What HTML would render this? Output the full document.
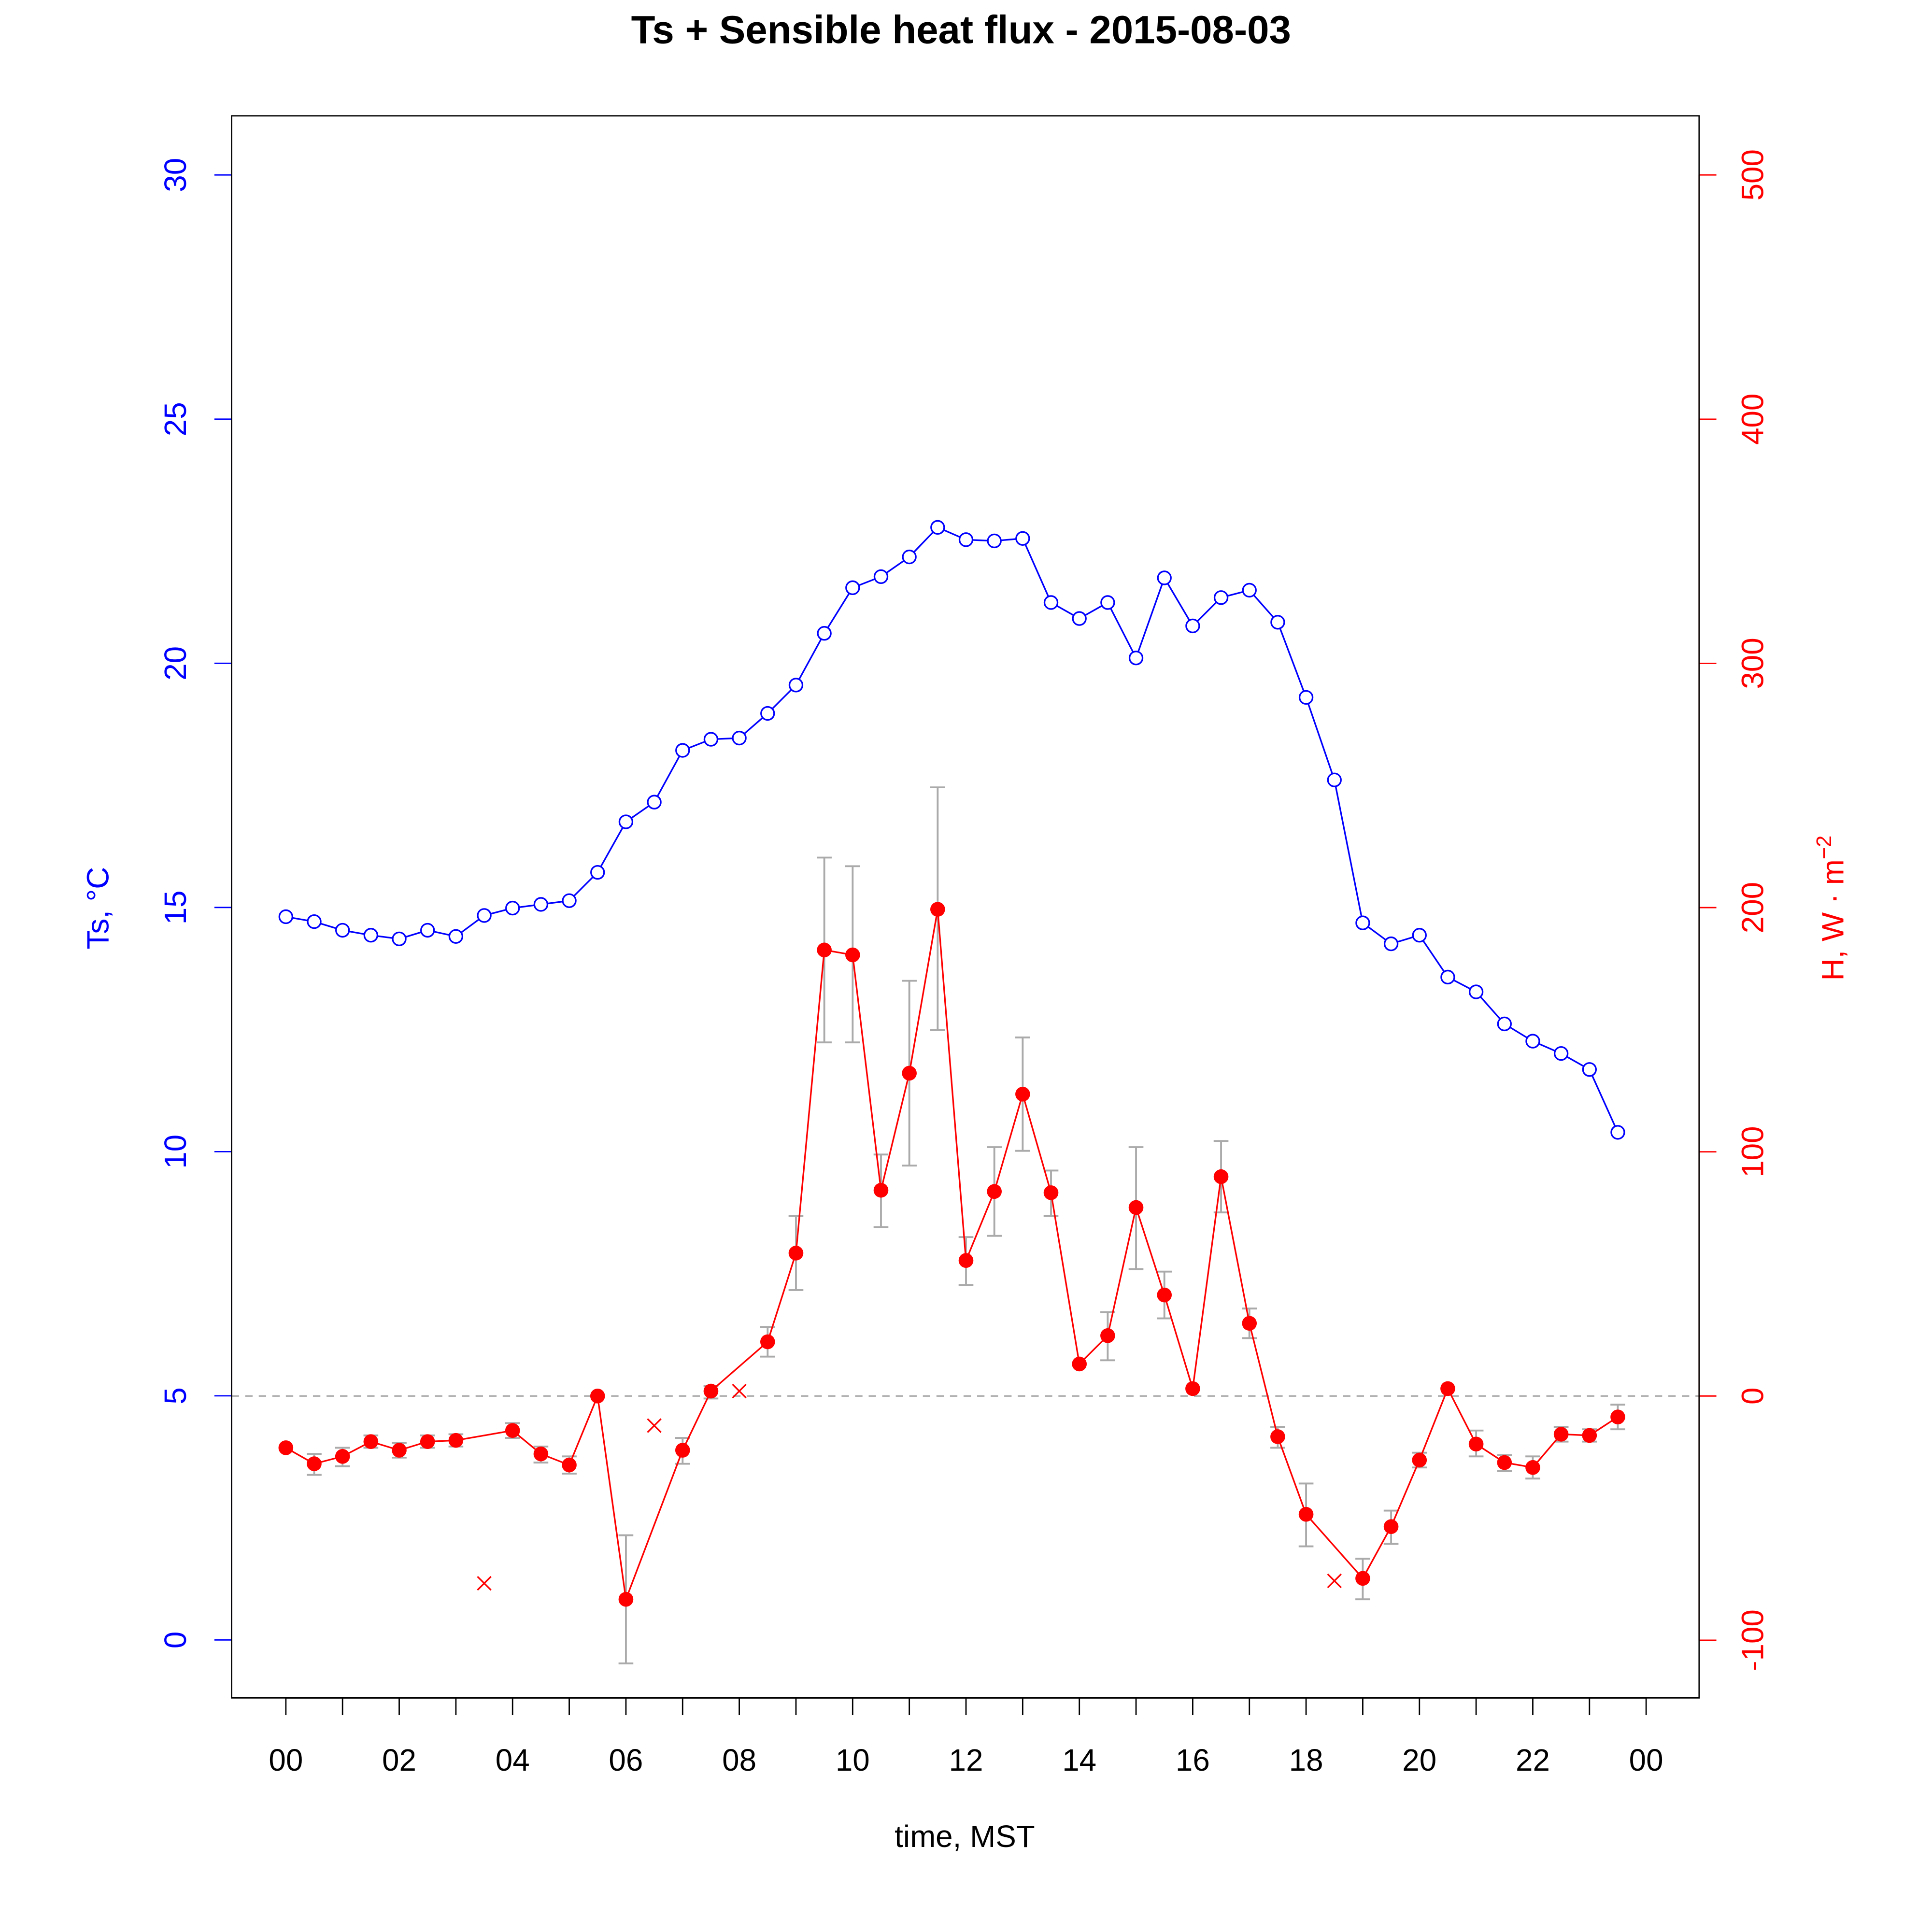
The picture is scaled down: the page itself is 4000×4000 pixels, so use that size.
<!DOCTYPE html>
<html><head><meta charset="utf-8"><style>html,body{margin:0;padding:0;background:#fff}svg{display:block}</style></head>
<body>
<svg id="s" xmlns="http://www.w3.org/2000/svg" width="4000" height="4000" viewBox="0 0 1568 1568" font-family="Liberation Sans, Arial, sans-serif">
<rect width="1568" height="1568" fill="#fff"/>
</svg>
<script>
const s=document.getElementById('s');let h='';
const X=t=>232+t*46;
h+=`<text x="780" y="35" text-anchor="middle" font-size="32" font-weight="bold">Ts + Sensible heat flux -  2015-08-03</text>`;
h+=`<line x1="188" x2="1379" y1="1133" y2="1133" stroke="#aaa" stroke-width="1.2" stroke-dasharray="6,5"/>`;
h+=`<line x1="232" x2="1336" y1="1378" y2="1378" stroke="#000" stroke-width="1.1"/>`;
const lab=['00','02','04','06','08','10','12','14','16','18','20','22','00'];
for(let i=0;i<=24;i++){h+=`<line x1="${X(i)}" x2="${X(i)}" y1="1378" y2="1392" stroke="#000" stroke-width="1.1"/>`;
 if(i%2==0)h+=`<text x="${X(i)}" y="1437" text-anchor="middle" font-size="25">${lab[i/2]}</text>`;}
h+=`<text x="783" y="1499" text-anchor="middle" font-size="25">time, MST</text>`;
const YL=v=>1331-v*39.633;
h+=`<line x1="188" x2="188" y1="${YL(0)}" y2="${YL(30)}" stroke="#00f" stroke-width="1.1"/>`;
for(let v=0;v<=30;v+=5){const y=YL(v);h+=`<line x1="174" x2="188" y1="${y}" y2="${y}" stroke="#00f" stroke-width="1.1"/><text transform="translate(151,${y}) rotate(-90)" text-anchor="middle" font-size="25" fill="#00f">${v}</text>`;}
h+=`<text transform="translate(88,737) rotate(-90)" text-anchor="middle" font-size="25" fill="#00f">Ts, °C</text>`;
const YR=v=>1133-v*1.982;
h+=`<line x1="1379" x2="1379" y1="${YR(-100)}" y2="${YR(500)}" stroke="#f00" stroke-width="1.1"/>`;
for(let v=-100;v<=500;v+=100){const y=YR(v);h+=`<line x1="1379" x2="1393" y1="${y}" y2="${y}" stroke="#f00" stroke-width="1.1"/><text transform="translate(1431,${y}) rotate(-90)" text-anchor="middle" font-size="25" fill="#f00">${v}</text>`;}
h+=`<text transform="translate(1496,737) rotate(-90)" text-anchor="middle" font-size="25" fill="#f00">H, W · m<tspan font-size="17" dy="-10">−2</tspan></text>`;
h+=`<rect x="188" y="94" width="1191" height="1284" fill="none" stroke="#000" stroke-width="1.1"/>`;
const ts=[744,748,755,759,762,755,760,743,737,734,731,708,667,651,609,600,599,579,556,514,477,468,452,428,438,439,437,489,502,489,534,469,508,485,479,505,566,633,749,766,759,793,805,831,845,855,868,919];
h+=`<polyline fill="none" stroke="#00f" stroke-width="1.3" points="${ts.map((y,i)=>X(i/2)+','+y).join(' ')}"/>`;
ts.forEach((y,i)=>h+=`<circle cx="${X(i/2)}" cy="${y}" r="5.3" fill="#fff" stroke="#00f" stroke-width="1.3"/>`);
const H={0:1175,0.5:1188,1:1182,1.5:1170,2:1177,2.5:1170,3:1169,4:1161,4.5:1180,5:1189,5.5:1133,6:1298,7:1177,7.5:1129,8.5:1089,9:1017,9.5:771,10:775,10.5:966,11:871,11.5:738,12:1023,12.5:967,13:888,13.5:968,14:1107,14.5:1084,15:980,15.5:1051,16:1127,16.5:955,17:1074,17.5:1166,18:1229,19:1281,19.5:1239,20:1185,20.5:1127,21:1172,21.5:1187,22:1191,22.5:1164,23:1165,23.5:1150};
const E={0.5:[1180,1197],1:[1175,1190],1.5:[1165,1175],2:[1171,1183],2.5:[1165,1175],3:[1164,1174],4:[1155,1167],4.5:[1174,1187],5:[1182,1196],6:[1246,1350],7:[1167,1188],7.5:[1125,1135],8.5:[1077,1101],9:[987,1047],9.5:[696,846],10:[703,846],10.5:[937,996],11:[796,946],11.5:[639,836],12:[1004,1043],12.5:[931,1003],13:[842,934],13.5:[950,987],14.5:[1065,1104],15:[931,1030],15.5:[1032,1070],16.5:[926,984],17:[1062,1086],17.5:[1158,1175],18:[1204,1255],19:[1265,1298],19.5:[1226,1253],20:[1179,1191],21:[1161,1182],21.5:[1181,1194],22:[1182,1200],22.5:[1158,1170],23:[1160,1170],23.5:[1140,1160]};
for(const k in E){const x=X(+k),[a,b]=E[k];h+=`<g stroke="#aaa" stroke-width="1.5"><line x1="${x}" x2="${x}" y1="${a}" y2="${b}"/><line x1="${x-6}" x2="${x+6}" y1="${a}" y2="${a}"/><line x1="${x-6}" x2="${x+6}" y1="${b}" y2="${b}"/></g>`;}
const ks=Object.keys(H).map(Number).sort((a,b)=>a-b);
h+=`<polyline fill="none" stroke="#f00" stroke-width="1.3" points="${ks.map(k=>X(k)+','+H[k]).join(' ')}"/>`;
ks.forEach(k=>h+=`<circle cx="${X(k)}" cy="${H[k]}" r="6" fill="#f00"/>`);
[[3.5,1285],[6.5,1157],[8,1129],[18.5,1283]].forEach(([t,y])=>{const x=X(t);h+=`<g stroke="#f00" stroke-width="1.3"><line x1="${x-5.5}" y1="${y-5.5}" x2="${x+5.5}" y2="${y+5.5}"/><line x1="${x-5.5}" y1="${y+5.5}" x2="${x+5.5}" y2="${y-5.5}"/></g>`;});
s.innerHTML+=h;
</script>
</body></html>
